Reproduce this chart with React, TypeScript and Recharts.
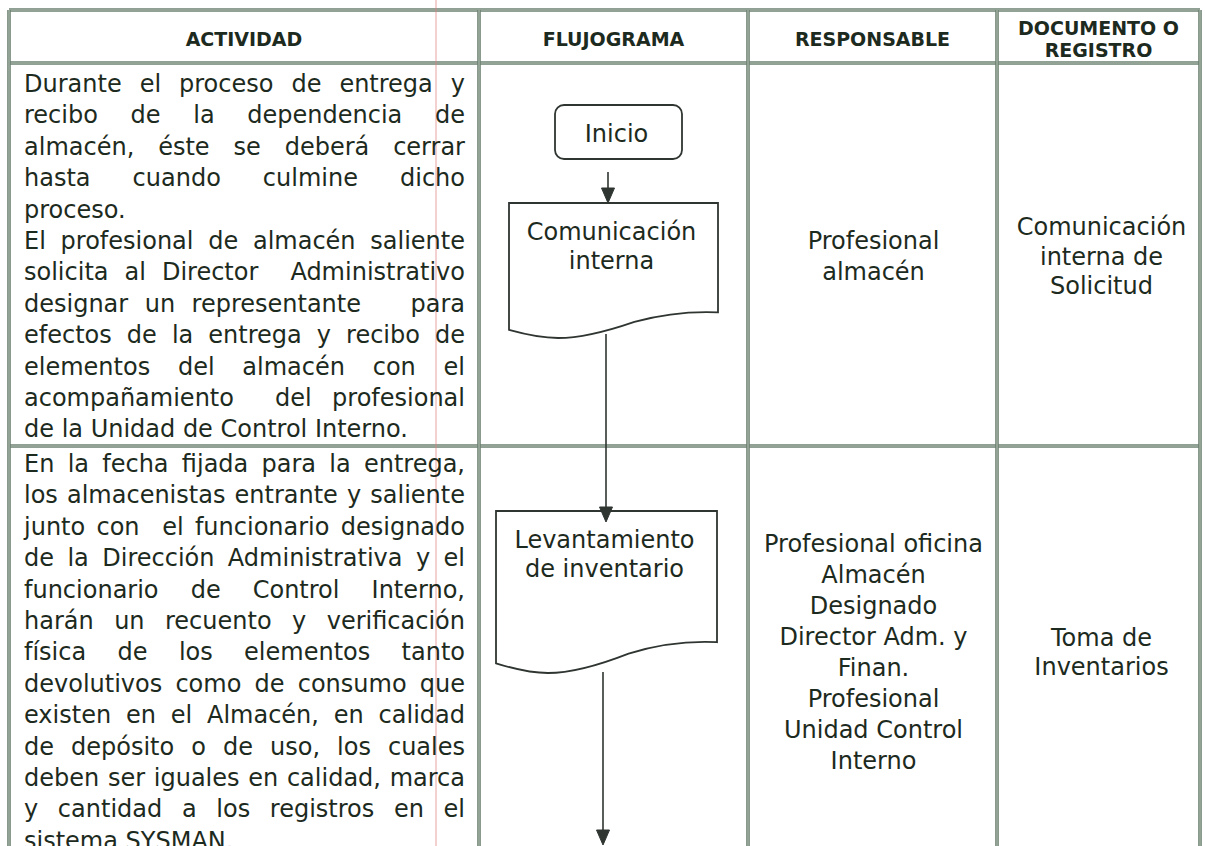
import React from 'react';
import { ScatterChart, Scatter, XAxis, YAxis, ReferenceLine, ReferenceArea, ReferenceDot } from 'recharts';

// ---------- content ----------
const headerLabels: string[][] = [['ACTIVIDAD'], ['FLUJOGRAMA'], ['RESPONSABLE'], ['DOCUMENTO O', 'REGISTRO']];

// each row: list of paragraphs, each paragraph: list of lines (last line of a paragraph is not justified)
const activityRow1: string[][] = [
  [
    'Durante el proceso de entrega y',
    'recibo de la dependencia de',
    'almacén, éste se deberá cerrar',
    'hasta cuando culmine dicho',
    'proceso.',
  ],
  [
    'El profesional de almacén saliente',
    'solicita al Director  Administrativo',
    'designar un representante   para',
    'efectos de la entrega y recibo de',
    'elementos del almacén con el',
    'acompañamiento  del profesional',
    'de la Unidad de Control Interno.',
  ],
];
const activityRow2: string[][] = [
  [
    'En la fecha fijada para la entrega,',
    'los almacenistas entrante y saliente',
    'junto con  el funcionario designado',
    'de la Dirección Administrativa y el',
    'funcionario de Control Interno,',
    'harán un recuento y verificación',
    'física de los elementos tanto',
    'devolutivos como de consumo que',
    'existen en el Almacén, en calidad',
    'de depósito o de uso, los cuales',
    'deben ser iguales en calidad, marca',
    'y cantidad a los registros en el',
    'sistema SYSMAN.',
  ],
];
const flowLabels: string[][] = [['Inicio'], ['Comunicación', 'interna'], ['Levantamiento', 'de inventario']];
const responsables: string[][] = [
  ['Profesional', 'almacén'],
  ['Profesional oficina', 'Almacén', 'Designado', 'Director Adm. y', 'Finan.', 'Profesional', 'Unidad Control', 'Interno'],
];
const documentos: string[][] = [
  ['Comunicación', 'interna de', 'Solicitud'],
  ['Toma de', 'Inventarios'],
];

// ---------- layout (chart coordinates, 1 unit = 1 px) ----------
const W = 1205;
const H = 846;
const colEdges = [9, 479, 748, 997, 1200];
const rowEdges = [10, 63, 446];
const rowMids = [256, 652];
const activityFirstBaseline = [92, 472];
const flowBoxes = [
  { kind: 'terminal', x1: 555, x2: 682, y1: 105, y2: 159 },
  { kind: 'document', x1: 509, x2: 718, y1: 203, y2: 338 },
  { kind: 'document', x1: 496, x2: 717, y1: 511, y2: 673 },
];
const flowArrows = [
  { x: 608, y1: 172, y2: 203 },
  { x: 606, y1: 334, y2: 522 },
  { x: 603, y1: 672, y2: 845 },
];
const scanMarkX = 436;

// ---------- styles ----------
const FONT = "'DejaVu Sans', Verdana, sans-serif";
const TEXT = '#1d2a20';
const BORDER = '#6c8070';
const BORDER_IN = '#c3cec5';
const SHAPE = '#2f3531';
const BODY = 24;
const LH = 31;
const ACT_LH = 31.4;

let ctx: CanvasRenderingContext2D | null = null;
function measure(s: string, font: string): number {
  if (!s) return 0;
  if (!ctx) {
    const c = document.createElement('canvas');
    ctx = c.getContext('2d');
  }
  if (!ctx) return s.length * BODY * 0.55;
  ctx.font = font;
  return ctx.measureText(s).width;
}

function JustifiedLine({ x, y, width, text, justify }: { x: number; y: number; width: number; text: string; justify: boolean }) {
  const common = { fontFamily: FONT, fontSize: BODY, fill: TEXT };
  if (!justify) {
    return (
      <text x={x} y={y} {...common}>
        {text.replace(/ +/g, ' ')}
      </text>
    );
  }
  const font = `${BODY}px 'DejaVu Sans'`;
  const tokens = text.split(' ');
  const widths = tokens.map((t) => measure(t, font));
  const total = widths.reduce((a, b) => a + b, 0);
  const gap = tokens.length > 1 ? (width - total) / (tokens.length - 1) : 0;
  let cx = x;
  const spans: React.ReactNode[] = [];
  tokens.forEach((t, i) => {
    if (t) spans.push(<tspan key={i} x={cx}>{t}</tspan>);
    cx += widths[i] + gap;
  });
  return (
    <text y={y} {...common}>
      {spans}
    </text>
  );
}

const activityShape = (props: any) => {
  const { cx, cy, payload } = props;
  const paragraphs: string[][] = payload.paragraphs;
  const out: React.ReactNode[] = [];
  let k = 0;
  paragraphs.forEach((p, pi) => {
    p.forEach((line, li) => {
      out.push(
        <JustifiedLine
          key={`${pi}-${li}`}
          x={cx}
          y={cy + k * ACT_LH}
          width={payload.width}
          text={line}
          justify={li < p.length - 1}
        />
      );
      k++;
    });
  });
  return <g>{out}</g>;
};

const centeredShape = (size: number, weight: string | number, lh: number, capHalf: number) => (props: any) => {
  const { cx, cy, payload } = props;
  const lines: string[] = payload.lines;
  const n = lines.length;
  return (
    <g>
      {lines.map((l, i) => (
        <text
          key={i}
          x={cx}
          y={cy + (i - (n - 1) / 2) * lh + capHalf}
          textAnchor="middle"
          fontFamily={FONT}
          fontSize={size}
          fontWeight={weight}
          fill={TEXT}
        >
          {l}
        </text>
      ))}
    </g>
  );
};

const headerShape = centeredShape(19, 700, 22, 7);
const bodyShape = centeredShape(BODY, 400, LH, 8.7);
const docShapeText = centeredShape(BODY, 400, 29.5, 8.7);
const flowShape = centeredShape(BODY, 400, 29, 8.7);

const terminalShape = (props: any) => {
  const { x, y, width, height } = props;
  return <rect x={x} y={y} width={width} height={height} rx={9} ry={9} fill="#fff" stroke={SHAPE} strokeWidth={1.8} />;
};
const documentShape = (props: any) => {
  const { x, y, width: w, height: h } = props;
  const d = `M ${x} ${y} H ${x + w} V ${y + 0.81 * h} C ${x + 0.85 * w} ${y + 0.8 * h} ${x + 0.72 * w} ${y + 0.83 * h} ${x + 0.6 * w} ${y + 0.88 * h} C ${x + 0.45 * w} ${y + 0.96 * h} ${x + 0.32 * w} ${y + h} ${x + 0.235 * w} ${y + h} C ${x + 0.15 * w} ${y + h} ${x + 0.07 * w} ${y + 0.97 * h} ${x} ${y + 0.94 * h} Z`;
  return <path d={d} fill="#fff" stroke={SHAPE} strokeWidth={1.8} />;
};
const arrowHead = (props: any) => {
  const { cx, cy } = props;
  return <path d={`M ${cx - 6.5} ${cy - 15} L ${cx + 6.5} ${cy - 15} L ${cx} ${cy} Z`} fill={SHAPE} stroke={SHAPE} strokeWidth={1} />;
};

function border(key: string, a: { x: number; y: number }, b: { x: number; y: number }) {
  return [
    <ReferenceLine key={key + 'o'} segment={[a, b]} stroke={BORDER} strokeWidth={3.6} ifOverflow="visible" />,
    <ReferenceLine key={key + 'i'} segment={[a, b]} stroke={BORDER_IN} strokeWidth={0.9} ifOverflow="visible" />,
  ];
}

export default function App() {
  const left = colEdges[0];
  const right = colEdges[colEdges.length - 1];

  const headerData = headerLabels.map((lines, i) => ({
    x: (colEdges[i] + colEdges[i + 1]) / 2,
    y: (rowEdges[0] + rowEdges[1]) / 2 + 2,
    lines,
  }));
  const actLeft = colEdges[0] + 15;
  const actWidth = colEdges[1] - 14 - actLeft;
  const activityData = [activityRow1, activityRow2].map((paragraphs, i) => ({
    x: actLeft,
    y: activityFirstBaseline[i],
    width: actWidth,
    paragraphs,
  }));
  const respData = responsables.map((lines, i) => ({
    x: (colEdges[2] + colEdges[3]) / 2 + 1,
    y: rowMids[i],
    lines,
  }));
  const docData = documentos.map((lines, i) => ({
    x: (colEdges[3] + colEdges[4]) / 2 + 3,
    y: rowMids[i],
    lines,
  }));
  const flowData = flowLabels.map((lines, i) => {
    const b = flowBoxes[i];
    return {
      x: (b.x1 + b.x2) / 2 - 2,
      y: b.kind === 'terminal' ? (b.y1 + b.y2) / 2 + 1 : b.y1 + 42.5,
      lines,
    };
  });

  const lines: React.ReactNode[] = [];
  rowEdges.forEach((y, i) => {
    lines.push(...border('h' + i, { x: left, y }, { x: right, y }));
  });
  colEdges.forEach((x, i) => {
    lines.push(...border('v' + i, { x, y: rowEdges[0] }, { x, y: H }));
  });

  return (
    <div style={{ position: 'absolute', left: 0, top: 0, width: W, height: H, background: '#fff' }}>
      <ScatterChart width={W} height={H} margin={{ top: 0, right: 0, bottom: 0, left: 0 }}>
        <XAxis type="number" dataKey="x" domain={[0, W]} hide allowDataOverflow />
        <YAxis type="number" dataKey="y" domain={[0, H]} reversed hide allowDataOverflow />
        {lines}
        <ReferenceLine
          segment={[{ x: scanMarkX, y: 0 }, { x: scanMarkX, y: H }]}
          stroke="#e07a7a"
          strokeOpacity={0.7}
          strokeWidth={1}
          ifOverflow="visible"
        />
        {flowBoxes.map((b, i) => (
          <ReferenceArea
            key={'box' + i}
            x1={b.x1}
            x2={b.x2}
            y1={b.y1}
            y2={b.y2}
            ifOverflow="visible"
            shape={b.kind === 'terminal' ? terminalShape : documentShape}
          />
        ))}
        {flowArrows.map((a, i) => (
          <ReferenceLine
            key={'arr' + i}
            segment={[{ x: a.x, y: a.y1 }, { x: a.x, y: a.y2 - 8 }]}
            stroke={SHAPE}
            strokeWidth={1.6}
            ifOverflow="visible"
          />
        ))}
        {flowArrows.map((a, i) => (
          <ReferenceDot key={'head' + i} x={a.x} y={a.y2} r={1} ifOverflow="visible" shape={arrowHead} />
        ))}
        <Scatter data={headerData} shape={headerShape} isAnimationActive={false} />
        <Scatter data={activityData} shape={activityShape} isAnimationActive={false} />
        <Scatter data={flowData} shape={flowShape} isAnimationActive={false} />
        <Scatter data={respData} shape={bodyShape} isAnimationActive={false} />
        <Scatter data={docData} shape={docShapeText} isAnimationActive={false} />
      </ScatterChart>
    </div>
  );
}
